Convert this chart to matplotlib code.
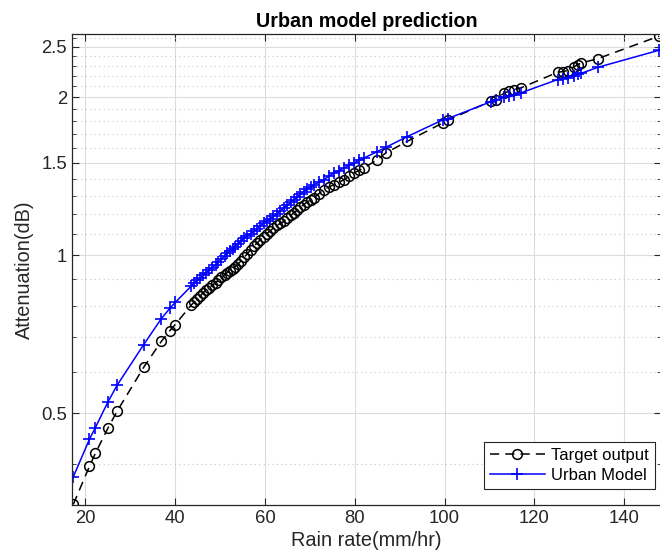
import matplotlib
matplotlib.use("Agg")
import matplotlib.pyplot as plt
from matplotlib.ticker import FixedLocator, NullFormatter, FixedFormatter
import numpy as np

# Rain rate (mm/hr), shared by both series
rain_rate = [17.3, 20.9, 22.2, 25.0, 27.1, 33.0, 36.9, 38.8, 40.0, 43.6,
             44.3, 44.9, 45.6, 46.2, 46.8, 47.5, 48.2, 49.0, 49.6, 50.3,
             51.0, 51.6, 52.2, 52.8, 53.3, 54.0, 54.7, 55.4, 56.0, 56.8,
             57.5, 58.2, 59.0, 59.7, 60.4, 61.1, 61.9, 62.6, 63.4, 64.2,
             64.9, 65.7, 66.4, 67.2, 67.9, 68.6, 69.4, 70.2, 70.9, 72.0,
             73.1, 74.2, 75.3, 76.5, 77.6, 78.8, 79.8, 81.0, 82.0, 85.0,
             86.9, 91.7, 99.6, 100.7, 110.3, 111.4, 113.3, 114.4, 115.5, 117.0,
             125.2, 126.3, 127.4, 128.9, 129.7, 130.4, 134.2, 147.8]

# Attenuation (dB) - target output
target_output = [0.335, 0.396, 0.419, 0.468, 0.505, 0.612, 0.685, 0.718, 0.738, 0.804,
                 0.816, 0.826, 0.837, 0.848, 0.858, 0.868, 0.876, 0.887, 0.896, 0.908,
                 0.918, 0.927, 0.935, 0.943, 0.951, 0.963, 0.976, 0.992, 1.005, 1.024,
                 1.040, 1.055, 1.071, 1.086, 1.100, 1.113, 1.127, 1.140, 1.150, 1.160,
                 1.178, 1.191, 1.204, 1.220, 1.235, 1.249, 1.264, 1.276, 1.286, 1.310,
                 1.334, 1.349, 1.363, 1.378, 1.393, 1.414, 1.435, 1.452, 1.467, 1.521,
                 1.567, 1.649, 1.788, 1.810, 1.966, 1.981, 2.040, 2.055, 2.070, 2.085,
                 2.233, 2.240, 2.250, 2.290, 2.310, 2.325, 2.372, 2.617]

# Attenuation (dB) - urban model
urban_model = [0.378, 0.446, 0.469, 0.525, 0.566, 0.676, 0.757, 0.792, 0.813, 0.874,
               0.886, 0.896, 0.906, 0.916, 0.926, 0.936, 0.946, 0.959, 0.969, 0.983,
               0.997, 1.008, 1.019, 1.030, 1.039, 1.052, 1.066, 1.080, 1.089, 1.100,
               1.111, 1.123, 1.138, 1.152, 1.163, 1.174, 1.186, 1.200, 1.215, 1.230,
               1.245, 1.261, 1.275, 1.292, 1.308, 1.322, 1.337, 1.350, 1.363, 1.378,
               1.394, 1.414, 1.434, 1.451, 1.467, 1.485, 1.500, 1.517, 1.532, 1.576,
               1.606, 1.684, 1.812, 1.822, 1.962, 1.975, 2.004, 2.015, 2.025, 2.040,
               2.163, 2.172, 2.182, 2.200, 2.212, 2.222, 2.283, 2.460]

y_ticks = [0.5, 1, 1.5, 2, 2.5]
y_tick_labels = ["0.5", "1", "1.5", "2", "2.5"]
x_ticks = [20, 40, 60, 80, 100, 120, 140]

plt.rcParams['font.family'] = ['Liberation Sans', 'DejaVu Sans']

fig = plt.figure(figsize=(6.6, 5.6), dpi=100)
ax = fig.add_axes([0.109, 0.098, 0.893, 0.841])

ax.plot(rain_rate, target_output, color='black', linestyle='--', dashes=(6, 4),
        linewidth=1.1, marker='o', markersize=7, markerfacecolor='none',
        markeredgewidth=1.1, label='Target output')
ax.plot(rain_rate, urban_model, color='blue', linewidth=1.1, marker='+',
        markersize=8, markeredgewidth=1.2, label='Urban Model')

ax.set_yscale('log')
ax.set_xlim(17, 148.3)
ax.set_ylim(0.334, 2.64)

ax.yaxis.set_major_locator(FixedLocator(y_ticks))
ax.yaxis.set_major_formatter(FixedFormatter(y_tick_labels))
minor = [v for v in np.round(np.arange(0.3, 2.75, 0.1), 2) if v not in y_ticks]
ax.yaxis.set_minor_locator(FixedLocator(minor))
ax.yaxis.set_minor_formatter(NullFormatter())
ax.set_xticks(x_ticks)

ax.grid(True, which='major', color='#dcdcdc', linewidth=0.8)
ax.grid(True, which='minor', axis='y', color='#c8c8c8', linestyle=(0, (1, 3)), linewidth=0.8)
ax.set_axisbelow(True)

ax.tick_params(which='both', direction='in', top=True, right=True,
               colors='#262626', labelsize=13.3)
ax.tick_params(which='major', length=5)
ax.tick_params(which='minor', length=3)
for sp in ax.spines.values():
    sp.set_color('#262626')
    sp.set_linewidth(0.9)

ax.set_title('Urban model prediction', fontsize=14.2, fontweight='bold', color='black', pad=5)
ax.set_xlabel('Rain rate(mm/hr)', fontsize=14.3, color='#262626', labelpad=3)
ax.set_ylabel('Attenuation(dB)', fontsize=14.3, color='#262626', labelpad=5)

leg = ax.legend(loc='lower right', bbox_to_anchor=(0.989, 0.034), borderaxespad=0,
                fontsize=12, fancybox=False, framealpha=1, edgecolor='#262626',
                handlelength=3.3, handletextpad=0.4, borderpad=0.35, labelspacing=0.3)
leg.get_frame().set_linewidth(0.8)

fig.savefig('out.png', dpi=100)
